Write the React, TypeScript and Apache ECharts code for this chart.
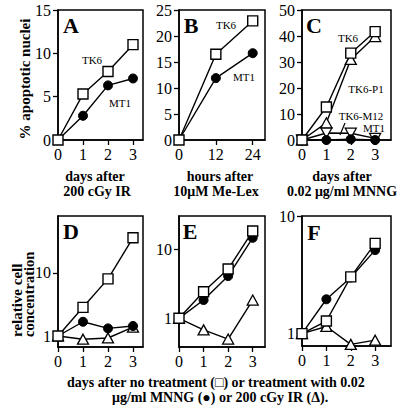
import React, { useEffect, useRef } from "react";
import * as echarts from "echarts";

// x categories
const days = [0, 1, 2, 3];
const hours = [0, 12, 24];

// Panel A: % apoptotic nuclei, days after 200 cGy IR
const aTK6 = [0, 5.3, 7.9, 11.0];
const aMT1 = [0, 2.8, 6.3, 7.1];
// Panel B: hours after 10uM Me-Lex
const bTK6 = [0, 16.5, 22.9];
const bMT1 = [0, 11.9, 16.7];
// Panel C: days after 0.02 ug/ml MNNG
const cTK6 = [0, 12.7, 33.4, 41.7];
const cP1 = [0, 6.6, 31.0, 39.8];
const cM12 = [0, 2.7, 2.6, 0.6];
const cMT1 = [0, 0, 0.3, 0];
// Panel D: relative cell concentration
const dNone = [1, 2.84, 8.0, 35.7];
const dMNNG = [1, 1.68, 1.32, 1.44];
const dIR = [1, 0.89, 0.93, 1.38];
// Panel E
const eNone = [1, 2.43, 5.18, 18.4];
const eMNNG = [1, 1.84, 4.1, 14.7];
const eIR = [1, 0.68, 0.5, 1.84];
// Panel F
const fNone = [1, 1.28, 3.04, 5.85];
const fMNNG = [1, 1.96, 3.0, 5.13];
const fIR = [1, 1.15, 0.81, 0.88];

// tick labels
const dayTicks = [0, 1, 2, 3];
const hourTicks = [0, 12, 24];
const yTicksA = [0, 5, 10, 15];
const yTicksB = [0, 5, 10, 15, 20, 25];
const yTicksC = [0, 10, 20, 30, 40, 50];
const logTicks = [1, 10];

const SERIF = "Liberation Serif";
const BLACK = "#000";

function pairs(xs: number[], ys: number[]) {
  return xs.map((x, i) => [x, ys[i]]);
}

type Mk = "sq" | "ci" | "tri" | "itri";
function mk(grid: number, xs: number[], ys: number[], m: Mk) {
  const base: any = {
    type: "line",
    xAxisIndex: grid,
    yAxisIndex: grid,
    data: pairs(xs, ys),
    lineStyle: { color: BLACK, width: 1.4 },
    showAllSymbol: true,
    animation: false,
    silent: true,
  };
  if (m === "sq") {
    base.symbol = "rect";
    base.symbolSize = 10;
    base.itemStyle = { color: "#fff", borderColor: BLACK, borderWidth: 1.4 };
  } else if (m === "ci") {
    base.symbol = "circle";
    base.symbolSize = 9;
    base.itemStyle = { color: BLACK, borderColor: BLACK, borderWidth: 1 };
  } else {
    base.symbol = "triangle";
    base.symbolSize = [11, 10];
    base.itemStyle = { color: "#fff", borderColor: BLACK, borderWidth: 1.3 };
    if (m === "itri") base.symbolRotate = 180;
  }
  return base;
}

const grids = [
  { left: 58, top: 10, width: 85, height: 130 },
  { left: 179, top: 10, width: 86, height: 130 },
  { left: 302, top: 10, width: 89, height: 130 },
  { left: 58, top: 216, width: 85, height: 131 },
  { left: 179, top: 216, width: 86, height: 131 },
  { left: 302, top: 216, width: 89, height: 130 },
];

const labelFont = { color: BLACK, fontFamily: SERIF, fontSize: 16 };

function xAxis(grid: number, max: number, ticks: number[]) {
  return {
    type: "value",
    gridIndex: grid,
    min: 0,
    max,
    axisLine: { show: true, onZero: false, lineStyle: { color: BLACK, width: 1.5 } },
    axisTick: { show: true, inside: false, length: 5, customValues: ticks, lineStyle: { color: BLACK, width: 1.3 } },
    axisLabel: { customValues: ticks, ...labelFont, margin: 6 },
    splitLine: { show: false },
  };
}

function yLin(grid: number, max: number, ticks: number[]) {
  return {
    type: "value",
    gridIndex: grid,
    min: 0,
    max,
    interval: ticks[1] - ticks[0],
    axisLine: { show: true, onZero: false, lineStyle: { color: BLACK, width: 1.5 } },
    axisTick: { show: true, inside: false, length: 5, lineStyle: { color: BLACK, width: 1.3 } },
    axisLabel: { ...labelFont, margin: 7 },
    splitLine: { show: false },
  };
}

function yLog(grid: number, min: number, max: number) {
  return {
    type: "log",
    logBase: 10,
    gridIndex: grid,
    min,
    max,
    axisLine: { show: true, onZero: false, lineStyle: { color: BLACK, width: 1.5 } },
    axisTick: { show: true, inside: false, length: 5, customValues: logTicks, lineStyle: { color: BLACK, width: 1.3 } },
    axisLabel: {
      customValues: logTicks,
      ...labelFont,
      margin: 7,
      formatter: (v: number) => (logTicks.some((t) => Math.abs(t - v) < 1e-6) ? String(Math.round(v)) : ""),
    },
    splitLine: { show: false },
    minorTick: { show: false },
  };
}

function txt(x: number, y: number, text: string, size: number, bold: boolean, extra: any = {}) {
  return {
    type: "text",
    x,
    y,
    silent: true,
    style: {
      text,
      fill: BLACK,
      fontFamily: SERIF,
      fontSize: size,
      fontWeight: bold ? "bold" : "normal",
      align: "center",
      verticalAlign: "middle",
      ...extra,
    },
  };
}

export default function App() {
  const ref = useRef<HTMLDivElement>(null);
  useEffect(() => {
    if (!ref.current) return;
    const chart = echarts.init(ref.current, undefined, { renderer: "svg" });
    const option: any = {
      animation: false,
      backgroundColor: "#fff",
      textStyle: { fontFamily: SERIF },
      grid: grids.map((g) => ({ ...g, show: true, borderColor: BLACK, borderWidth: 1.5, backgroundColor: "transparent", containLabel: false })),
      xAxis: [
        xAxis(0, 3.4, dayTicks),
        xAxis(1, 28, hourTicks),
        xAxis(2, 3.65, dayTicks),
        xAxis(3, 3.4, dayTicks),
        xAxis(4, 3.5, dayTicks),
        xAxis(5, 3.65, dayTicks),
      ],
      yAxis: [
        yLin(0, 15, yTicksA),
        yLin(1, 25, yTicksB),
        yLin(2, 50, yTicksC),
        yLog(3, 0.67, 79),
        yLog(4, 0.384, 30.4),
        yLog(5, 0.785, 10),
      ],
      series: [
        mk(0, days, aMT1, "ci"),
        mk(0, days, aTK6, "sq"),
        mk(1, hours, bMT1, "ci"),
        mk(1, hours, bTK6, "sq"),
        mk(2, days, cM12, "itri"),
        mk(2, days, cMT1, "ci"),
        mk(2, days, cP1, "tri"),
        mk(2, days, cTK6, "sq"),
        mk(3, days, dIR, "tri"),
        mk(3, days, dMNNG, "ci"),
        mk(3, days, dNone, "sq"),
        mk(4, days, eIR, "tri"),
        mk(4, days, eMNNG, "ci"),
        mk(4, days, eNone, "sq"),
        mk(5, days, fIR, "tri"),
        mk(5, days, fMNNG, "ci"),
        mk(5, days, fNone, "sq"),
      ],
      graphic: [
        // panel letters
        txt(71, 25, "A", 22, true),
        txt(191, 25, "B", 22, true),
        txt(314, 25, "C", 22, true),
        txt(71, 231, "D", 22, true),
        txt(190, 231, "E", 22, true),
        txt(314, 232, "F", 22, true),
        // series labels
        txt(92, 60, "TK6", 11, false),
        txt(120, 103, "MT1", 11, false),
        txt(226, 25, "TK6", 11, false),
        txt(244, 77, "MT1", 11, false),
        txt(348, 38, "TK6", 11, false),
        txt(366, 89, "TK6-P1", 11, false),
        txt(361, 116, "TK6-M12", 11, false),
        txt(374, 128, "MT1", 11, false),
        {
          type: "line",
          silent: true,
          shape: { x1: 345, y1: 123, x2: 340, y2: 135 },
          style: { stroke: BLACK, lineWidth: 1.2 },
        },
        // y-axis titles
        { ...txt(25, 79, "% apoptotic nuclei", 15, true), rotation: Math.PI / 2 },
        { ...txt(17, 337, "relative cell", 15, true, { align: "left" }), rotation: Math.PI / 2 },
        { ...txt(29, 337, "concentration", 14.5, true, { align: "left" }), rotation: Math.PI / 2 },
        // x titles top row
        txt(95, 176, "days after", 14, true),
        txt(97, 191, "200 cGy IR", 14, true),
        txt(220, 176, "hours after", 14, true),
        txt(216, 191, "10μM Me-Lex", 14, true),
        txt(342, 176, "days after", 14, true),
        txt(342, 191, "0.02 μg/ml MNNG", 14, true),
        // bottom title
        txt(67, 382, "days after no treatment (□) or treatment with 0.02", 14, true, { align: "left" }),
        txt(112, 397, "μg/ml MNNG (●) or 200 cGy IR (Δ).", 14, true, { align: "left" }),
      ],
    };
    chart.setOption(option);
    return () => chart.dispose();
  }, []);
  return (
    <div
      ref={ref}
      style={{ position: "absolute", left: 0, top: 0, width: 400, height: 410, background: "#fff" }}
    />
  );
}
